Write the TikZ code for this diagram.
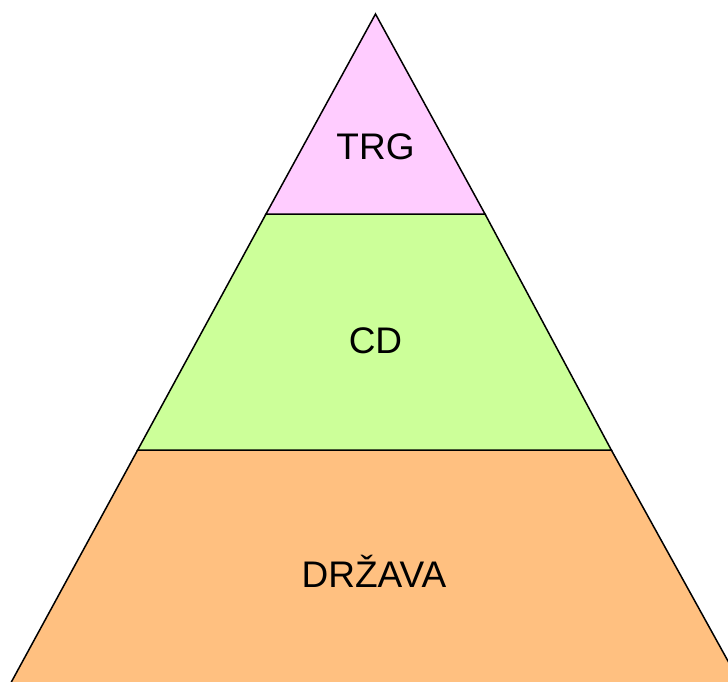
\documentclass[tikz,border=0pt]{standalone}
\usepackage{fontspec}
\setmainfont{Liberation Sans}
\usepackage{xcolor}

\definecolor{trgpink}{HTML}{FFCCFF}
\definecolor{cdgreen}{HTML}{CCFF99}
\definecolor{drzorange}{HTML}{FFC080}

\begin{document}
\begin{tikzpicture}[x=1pt, y=-1pt,
    every node/.style={font=\fontsize{37}{44}\selectfont, anchor=base},
    layer/.style={draw, line width=1.5pt, line join=miter}]
                    \useasboundingbox (0,0) rectangle (728,682);
                    \clip (0,0) rectangle (728,682);

                    \coordinate (T) at (375.5,14);
                    \coordinate (L1) at (266,214);
                    \coordinate (R1) at (485,214);
                    \coordinate (L2) at (137.7,450);
                    \coordinate (R2) at (611.3,450);
                    \coordinate (L3) at (7,690);
                    \coordinate (R3) at (744,690);

                    \filldraw[layer, fill=drzorange] (L2) -- (R2) -- (R3) -- (L3) -- cycle;
                    \filldraw[layer, fill=cdgreen] (L1) -- (R1) -- (R2) -- (L2) -- cycle;
                    \filldraw[layer, fill=trgpink] (T) -- (R1) -- (L1) -- cycle;

                    \node (trg) at (375.5,159) {TRG};
                    \node (cd) at (375.5,353) {CD};
                    \node (drz) at (374,587) {DRŽAVA};
                \end{tikzpicture}
\end{document}
